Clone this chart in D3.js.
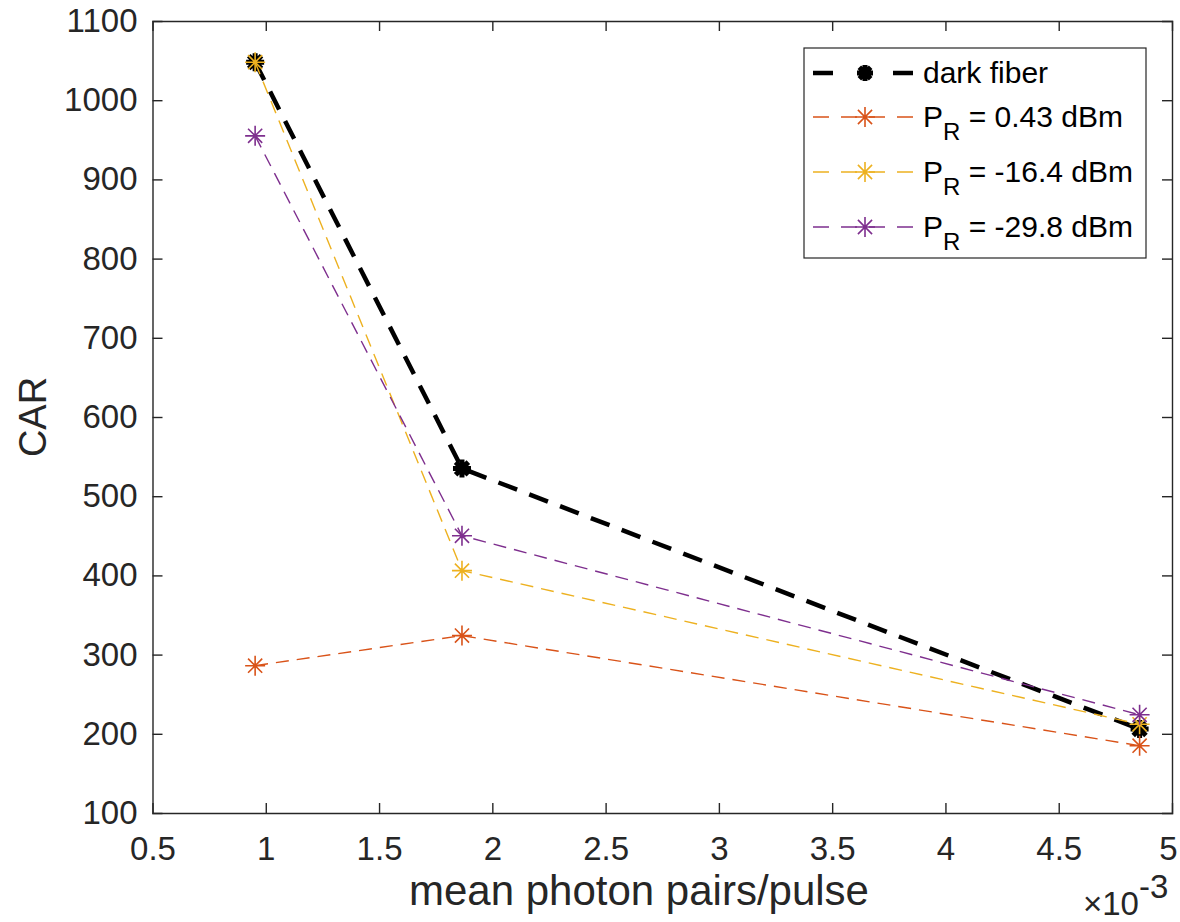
<!DOCTYPE html>
<html>
<head>
<meta charset="utf-8">
<script src="https://cdn.jsdelivr.net/npm/d3@7"></script>
<style>
  html, body { margin: 0; padding: 0; background: #fff; }
  svg { display: block; font-family: "Liberation Sans", Arial, Helvetica, sans-serif; }
</style>
</head>
<body>
<svg id="chart" width="1180" height="922"></svg>
<script>
// Mean photon pairs per pulse (units of 1e-3)
const pairsPerPulse = [0.953, 1.866, 4.857];

// Coincidence-to-accidental ratio for each configuration
const darkFiber = [1048, 535, 206];
const pr043 = [286, 324, 185];
const pr164 = [1048, 406, 212];
const pr298 = [955, 450, 224];

const xTicks = [0.5, 1, 1.5, 2, 2.5, 3, 3.5, 4, 4.5, 5];
const yTicks = [100, 200, 300, 400, 500, 600, 700, 800, 900, 1000, 1100];

const seriesNames = ["dark fiber", "0.43 dBm", "-16.4 dBm", "-29.8 dBm"];
const seriesValues = [darkFiber, pr043, pr164, pr298];
const seriesColors = ["#000000", "#D95319", "#EDB120", "#7E2F8E"];

const svg = d3.select("#chart");
const plotLeft = 152.5, plotRight = 1172, plotTop = 21, plotBottom = 813;
const axisColor = "#262626";

const x = d3.scaleLinear().domain([0.5, 5]).range([plotLeft, plotRight]);
const y = d3.scaleLinear().domain([100, 1100]).range([plotBottom, plotTop]);

const tickLen = 10;
const fmt = d => String(d);

// Axes with inward ticks on all four sides (boxed frame)
const gx = svg.append("g").attr("transform", `translate(0,${plotBottom})`)
  .call(d3.axisBottom(x).tickValues(xTicks).tickSize(-tickLen).tickPadding(24).tickFormat(fmt));
const gxTop = svg.append("g").attr("transform", `translate(0,${plotTop})`)
  .call(d3.axisTop(x).tickValues(xTicks).tickSize(-tickLen).tickFormat(""));
const gy = svg.append("g").attr("transform", `translate(${plotLeft},0)`)
  .call(d3.axisLeft(y).tickValues(yTicks).tickSize(-tickLen).tickPadding(15).tickFormat(fmt));
const gyRight = svg.append("g").attr("transform", `translate(${plotRight},0)`)
  .call(d3.axisRight(y).tickValues(yTicks).tickSize(-tickLen).tickFormat(""));

[gx, gxTop, gy, gyRight].forEach(g => {
  g.select(".domain").attr("stroke", axisColor).attr("stroke-width", 1.4);
  g.selectAll(".tick line").attr("stroke", axisColor).attr("stroke-width", 1.4);
  g.selectAll(".tick text").attr("fill", axisColor).attr("font-size", 33)
    .attr("font-family", "Liberation Sans, Arial, sans-serif");
});
// Keep the last x label inside the page
gx.selectAll(".tick text").filter(d => d === 5).attr("dx", -4);
// Hide ticks that sit on the frame corners
[gx, gxTop].forEach(g => g.selectAll(".tick line").filter(d => d === 0.5 || d === 5).remove());
[gy, gyRight].forEach(g => g.selectAll(".tick line").filter(d => d === 100 || d === 1100).remove());

// Axis labels
svg.append("text")
  .attr("x", 639).attr("y", 905)
  .attr("text-anchor", "middle")
  .attr("font-size", 42).attr("fill", axisColor)
  .text("mean photon pairs/pulse");

svg.append("text")
  .attr("transform", `translate(46,${(plotTop + plotBottom) / 2}) rotate(-90)`)
  .attr("text-anchor", "middle")
  .attr("font-size", 38).attr("fill", axisColor)
  .text("CAR");

// Exponent label for the x axis
const expo = svg.append("text").attr("x", 1083).attr("y", 915)
  .attr("font-size", 33).attr("fill", axisColor);
expo.append("tspan").text("×10");
expo.append("tspan").attr("dy", -17).text("-3");

// Asterisk marker path centred at origin
function asterisk(r) {
  const d = r * Math.SQRT1_2;
  return `M${-r},0L${r},0M0,${-r}L0,${r}M${-d},${-d}L${d},${d}M${-d},${d}L${d},${-d}`;
}

const line = d3.line().x((d, i) => x(pairsPerPulse[i])).y(d => y(d));

const styles = [
  { width: 4.5, dash: "20,13", mr: 9, mw: 5, legendDash: "20,60,20" },
  { width: 1.4, dash: "13,8", mr: 10, mw: 1.6, legendDash: "16,12" },
  { width: 1.4, dash: "13,8", mr: 10, mw: 1.6, legendDash: "16,12" },
  { width: 1.4, dash: "13,8", mr: 10, mw: 1.6, legendDash: "16,12" }
];

seriesValues.forEach((vals, k) => {
  const s = styles[k];
  const g = svg.append("g");
  g.append("path").datum(vals)
    .attr("d", line)
    .attr("fill", "none")
    .attr("stroke", seriesColors[k])
    .attr("stroke-width", s.width)
    .attr("stroke-dasharray", s.dash);
  g.selectAll("path.mk").data(vals).enter().append("path")
    .attr("class", "mk")
    .attr("d", asterisk(s.mr))
    .attr("transform", (d, i) => `translate(${x(pairsPerPulse[i])},${y(d)})`)
    .attr("fill", "none")
    .attr("stroke", seriesColors[k])
    .attr("stroke-width", s.mw);
});

// Legend
const lg = svg.append("g");
lg.append("rect")
  .attr("x", 804).attr("y", 48).attr("width", 342).attr("height", 210)
  .attr("fill", "#fff").attr("stroke", axisColor).attr("stroke-width", 1.2);

const rowY = [73, 117, 172, 227];
seriesNames.forEach((name, k) => {
  const s = styles[k];
  const yy = rowY[k];
  lg.append("line")
    .attr("x1", 813).attr("x2", 913).attr("y1", yy).attr("y2", yy)
    .attr("stroke", seriesColors[k])
    .attr("stroke-width", k === 0 ? 4.5 : 1.4)
    .attr("stroke-dasharray", s.legendDash);
  lg.append("path")
    .attr("d", asterisk(k === 0 ? 8 : 10))
    .attr("transform", `translate(865,${yy})`)
    .attr("fill", "none").attr("stroke", seriesColors[k]).attr("stroke-width", s.mw);
  const t = lg.append("text").attr("x", 923).attr("y", yy + 10)
    .attr("font-size", 30).attr("fill", "#000");
  if (k === 0) {
    t.text(name);
  } else {
    t.append("tspan").text("P");
    t.append("tspan").attr("dy", 13).attr("font-size", 24).text("R");
    t.append("tspan").attr("dy", -13).text(" = " + name);
  }
});
</script>
</body>
</html>
